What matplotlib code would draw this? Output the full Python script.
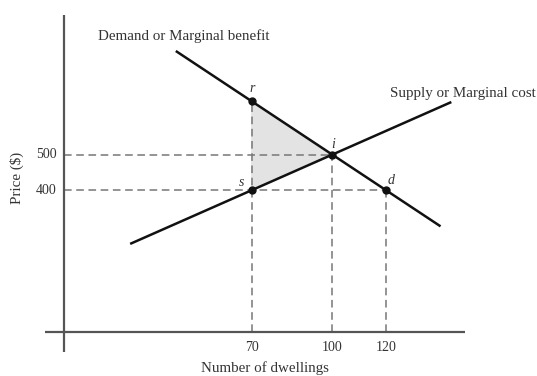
import numpy as np
import matplotlib.pyplot as plt

plt.rcParams['font.family'] = ['Liberation Serif', 'DejaVu Serif']

# data
demand_q = [42, 140]
demand_p = [790, 300]
supply_q = [25, 144]
supply_p = [250, 646.7]

point_names = ['r', 's', 'i', 'd']
point_q = [70, 70, 100, 120]
point_p = [650, 400, 500, 400]

x_ticks = [70, 100, 120]
y_ticks = [400, 500]

fig = plt.figure(figsize=(5.37, 3.76), dpi=100)
ax = fig.add_axes([0.0838, 0.0638, 0.782, 0.896])
ax.set_xlim(-7.2, 149.5)
ax.set_ylim(-56, 893)
for s in ax.spines.values():
    s.set_visible(False)
ax.set_xticks([])
ax.set_yticks([])

# axes crossing at origin
ax.axhline(0, color='#555555', lw=1.6, zorder=3)
ax.axvline(0, color='#555555', lw=1.6, zorder=3)

# welfare loss triangle r-i-s
ax.fill([70, 100, 70], [650, 500, 400], color='#e3e3e3', zorder=1)

# dashed guide lines
dash = dict(color='#777777', lw=1.1, ls=(0, (5, 3)), zorder=2)
ax.plot([0, 100], [500, 500], **dash)
ax.plot([0, 120], [400, 400], **dash)
ax.plot([70, 70], [0, 650], **dash)
ax.plot([100, 100], [0, 500], **dash)
ax.plot([120, 120], [0, 400], **dash)

ax.plot(demand_q, demand_p, color='#111111', lw=1.8, zorder=4)
ax.plot(supply_q, supply_p, color='#111111', lw=1.8, zorder=4)
ax.plot(point_q, point_p, 'o', color='#111111', ms=5, zorder=5)

offsets = {'r': (0, 18), 's': (-4, 4), 'i': (0.5, 10), 'd': (2, 10)}
for n, q, p in zip(point_names, point_q, point_p):
    dx, dy = offsets[n]
    ax.text(q + dx, p + dy, n, style='italic', fontsize=10, ha='center', va='bottom', color='#333333')

txt = dict(fontsize=10.8, color='#333333', clip_on=False)
ax.text(44.5, 835, 'Demand or Marginal benefit', ha='center', va='center', **txt)
ax.text(121.5, 672, 'Supply or Marginal cost', ha='left', va='center', **txt)

# tick labels
for v in x_ticks:
    ax.text(v, -42, str(v), ha='center', va='center', fontsize=10, color='#333333')
for v in y_ticks:
    ax.text(-2.8, v, str(v), ha='right', va='center', fontsize=10, color='#333333', clip_on=False)

ax.text(75, -101, 'Number of dwellings', ha='center', va='center', **txt)
ax.text(-17.5, 434, 'Price ($)', rotation=90, ha='center', va='center', **txt)

fig.savefig('out.png', dpi=100)
